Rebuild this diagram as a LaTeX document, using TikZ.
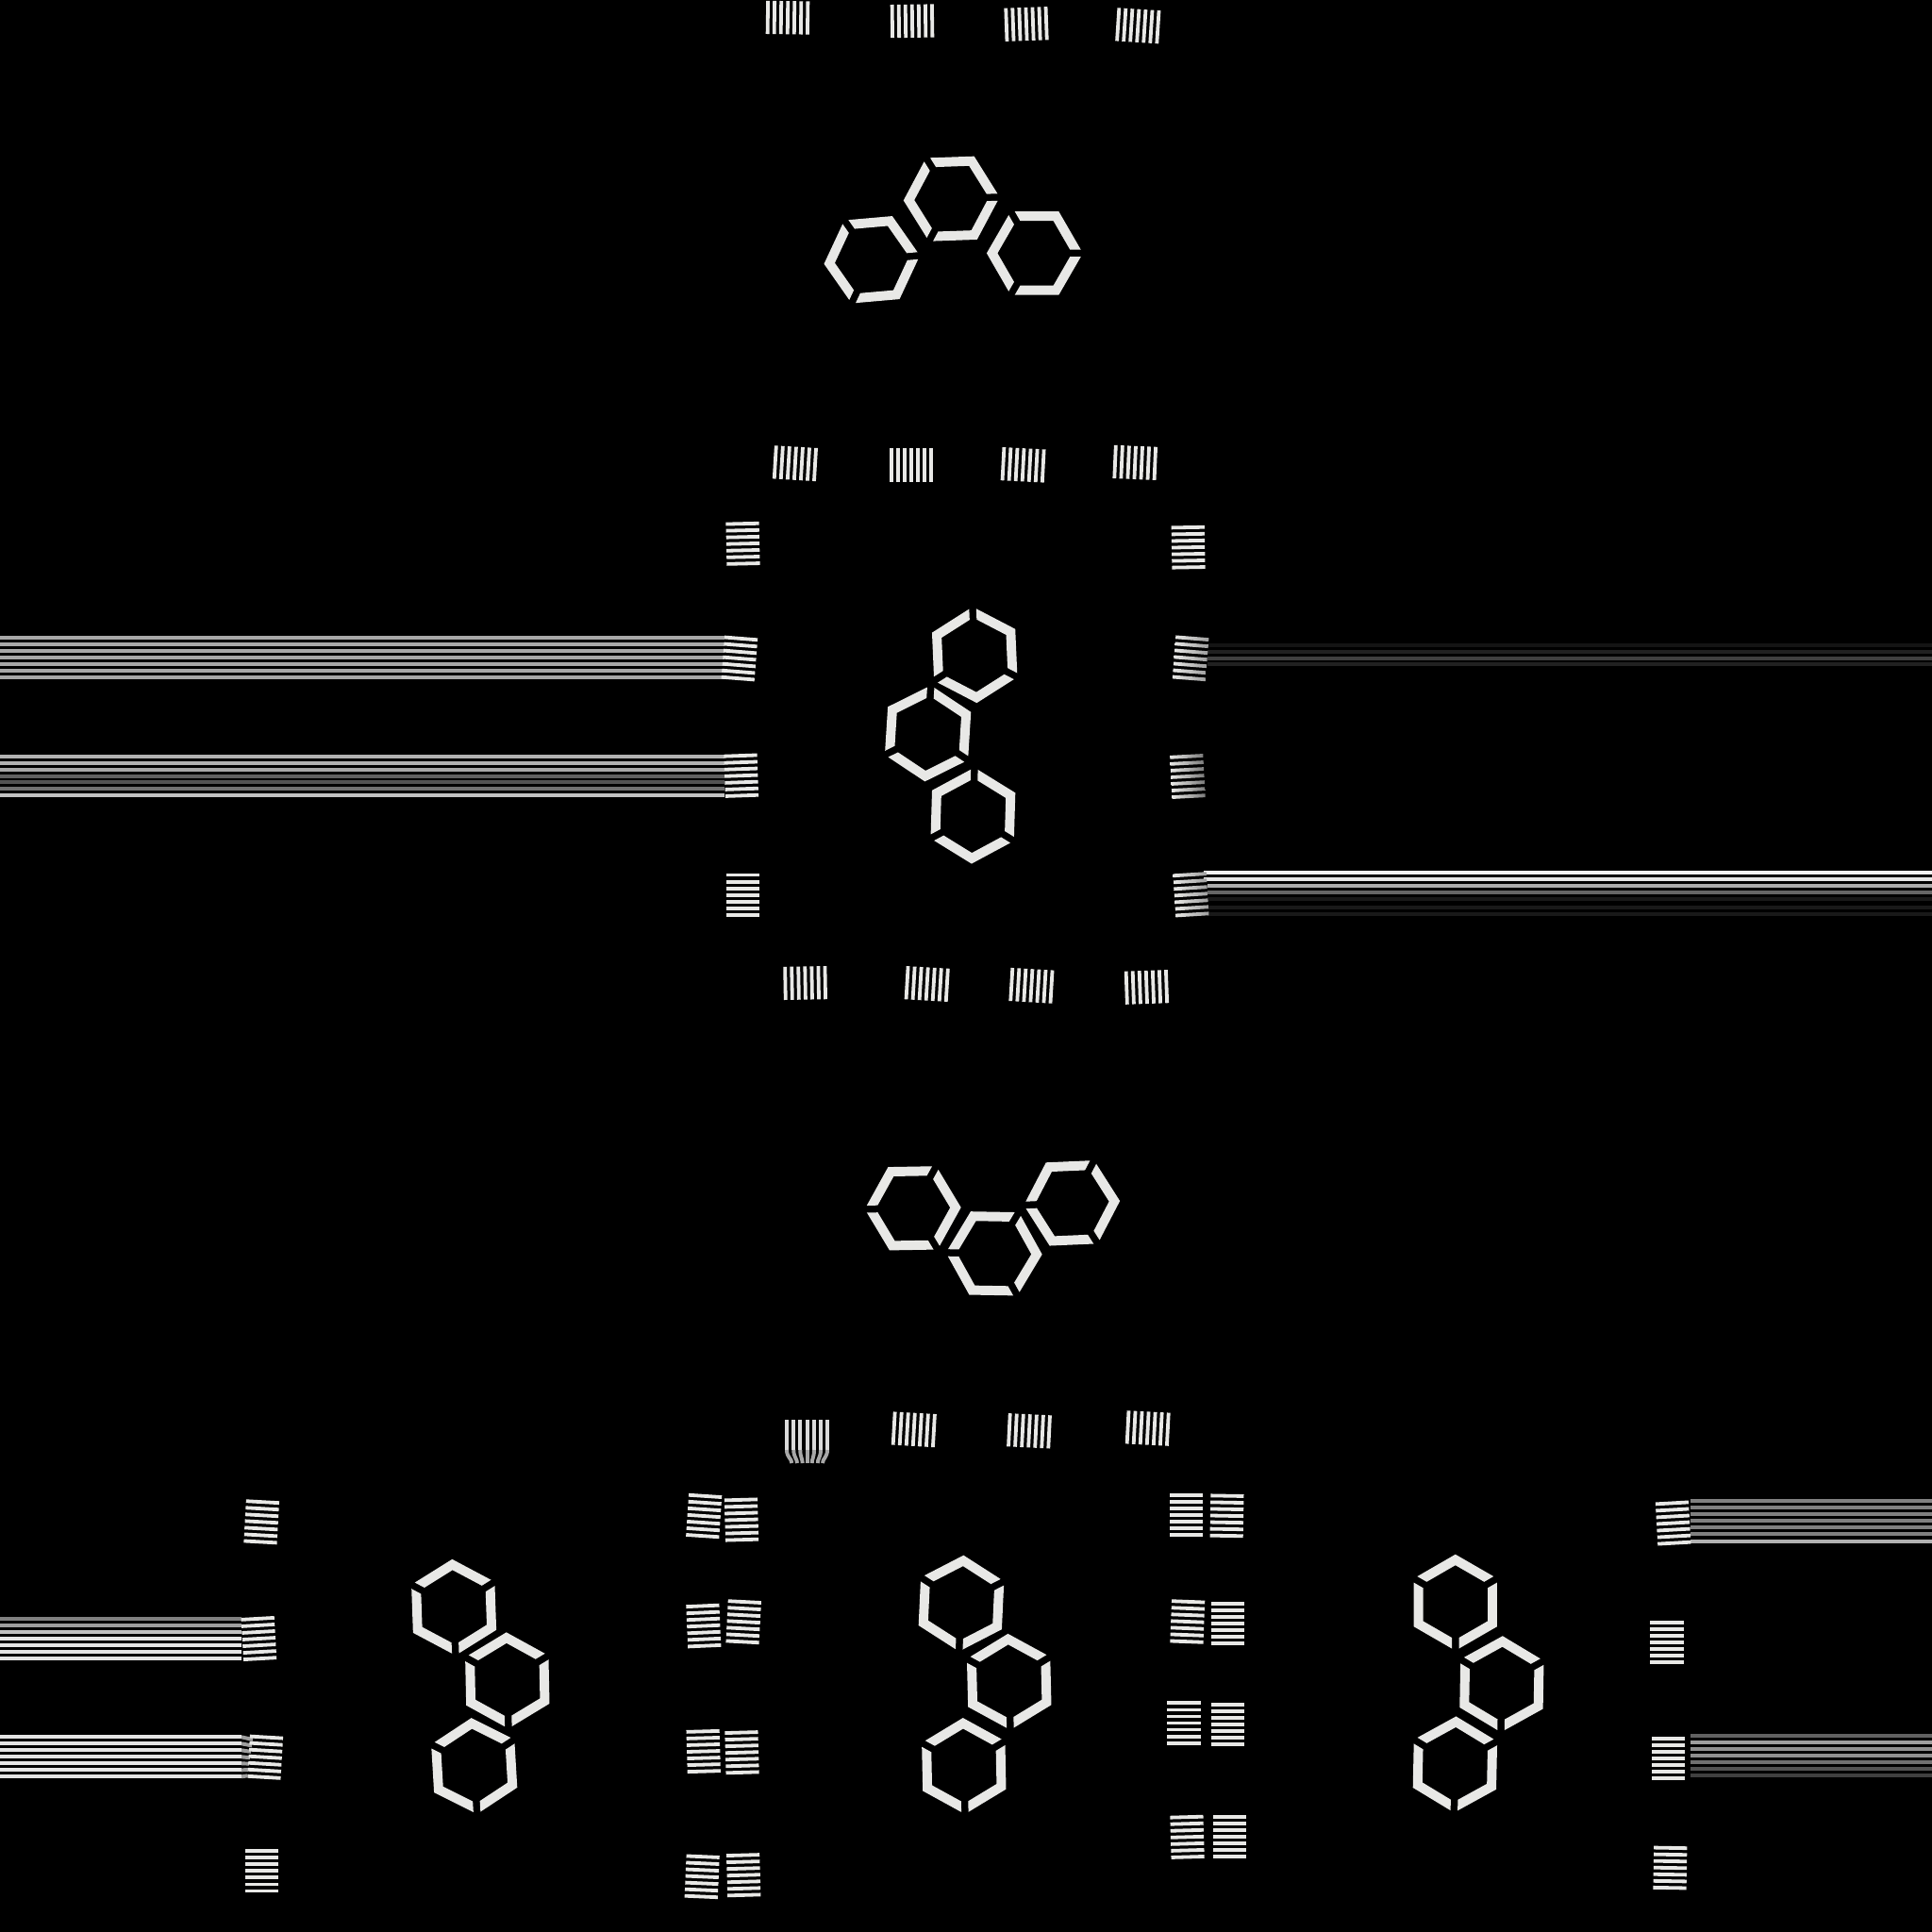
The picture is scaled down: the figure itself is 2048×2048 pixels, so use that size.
\documentclass[tikz,border=0pt]{standalone}
\usepackage{xcolor}
\definecolor{padink}{HTML}{E8E8E6}

\tikzset{
  padsolid/.style={fill=padink},
  padfade/.style={left color=padink,right color=white!62!black},
  padmid/.style={left color=padink,middle color=white!58!black,right color=white!48!black},
  wire/.style={line width=1.12pt},
}

% seven stripes, centre and angle
\newcommand{\pinset}[4][padsolid]{
  \begin{scope}[shift={(#2,#3)},rotate=#4]
    \foreach \i in {-3,...,3}
      \path[#1] (-17.6,\i*7.05-1.9) rectangle (17.6,\i*7.05+1.9);
  \end{scope}
}

% ring broken at three corners
\newcommand{\hexring}[3]{
  \begin{scope}[shift={(#1,#2)},rotate=#3]
    \foreach \a in {0,120,240}
      \fill[padink,rotate=\a] (27.67,40.42) -- (51,0) -- (27.67,-40.42) -- (21.92,-30.45) -- (39.5,0) -- (21.92,30.45) -- cycle;
  \end{scope}
}

\begin{document}
\begin{tikzpicture}[x=0.01cm,y=-0.01cm]
\useasboundingbox (0,0) rectangle (2048,2048);
\fill[black] (0,0) rectangle (2048,2048);

% wires
\foreach \wy/\wc in {676/66,683.3/66,690.3/66,697.3/66,704.3/66,711.3/66,718.3/66,
    801.7/70,808.7/70,815.7/66,822.7/38,829.3/32,836/44,843/76}
  \draw[wire,white!\wc!black] (0,\wy) -- (768,\wy);
\foreach \wy/\wc in {684.3/8,691.3/13,698.3/25,704.3/13,
    939/68,945.7/40,952.7/10,962/10,969/10}
  \draw[wire,white!\wc!black] (1280,\wy) -- (2048,\wy);
\foreach \wy/\wc in {925/95,931.7/90}
  \draw[wire,white!\wc!black] (1276,\wy) -- (2048,\wy);
\foreach \wy/\wc in {1715.7/50,1723/62,1730/75,1737/90,1744/90,1751/90,1758/90,
    1841.3/90,1848.3/90,1855.3/90,1862.3/90,1869.3/90,1876.3/90,1883.3/90}
  \draw[wire,white!\wc!black] (0,\wy) -- (256,\wy);
\foreach \wy/\wc in {1591/50,1598/50,1605/50,1612/50,1619/50,1626/50,1634.3/70,
    1840.3/38,1847.3/62,1854.3/56,1861.3/56,1868.3/44,1875.3/32,1882.3/25}
  \draw[wire,white!\wc!black] (1792,\wy) -- (2048,\wy);
\foreach \i in {0,...,6}
  \draw[wire,white!62!black] (256,1841.3+7*\i) -- (268-\i,1844+6.4*\i);

% top block
\hexring{924.3}{275.3}{65}
\hexring{1008.7}{210.7}{62}
\hexring{1096.9}{268.4}{60}
\pinset{835}{18.7}{89.2}
\pinset{967}{22.3}{90.8}
\pinset{1088}{25.5}{92}
\pinset{1206.3}{27.3}{86.3}

% middle block
\hexring{1033.2}{694.2}{32.5}
\hexring{983.6}{777.5}{26.4}
\hexring{1031.4}{864.6}{28.3}
\pinset{842.9}{491.2}{86.6}
\pinset{965.9}{493}{90}
\pinset{1084.6}{492.8}{87}
\pinset{1203.2}{490.4}{87.5}
\pinset{787.5}{576.3}{1.3}
\pinset{783.9}{698}{-4.5}
\pinset{785.7}{822.2}{2}
\pinset{787.1}{948.7}{0}
\pinset{1259.6}{580.2}{1}
\pinset[padfade]{1262.1}{697.8}{-4.5}
\pinset[padmid]{1258.9}{823}{3}
\pinset[padfade]{1262.5}{948.3}{3.5}
\pinset{853.6}{1042}{91}
\pinset{982.7}{1043}{86.6}
\pinset{1093.4}{1044.8}{86.6}
\pinset{1215.4}{1046.4}{92}

% lower block
\hexring{967.7}{1280.8}{1}
\hexring{1053.7}{1328.8}{-1}
\hexring{1136.2}{1275.3}{2.5}
\foreach \sx/\ex in {834/839.3,841.3/845,848.3/850.7,855.7/855.7,863/860.7,870/866.7,877/872}{
  \draw[wire,white!86!black] (\sx,1505) -- (\sx,1537);
  \draw[wire,white!66!black] (\sx,1537) .. controls (\sx,1545) and (\ex,1546) .. (\ex,1551);
}
\pinset{968.8}{1515.3}{86.7}
\pinset{1091}{1516.8}{87.2}
\pinset{1216.7}{1514}{87}

% bottom left
\hexring{481.1}{1703.8}{92}
\hexring{537.8}{1781.3}{91.2}
\hexring{502.7}{1872}{93.4}
\pinset{277.2}{1613.3}{-3.2}
\pinset{274.4}{1737}{3.2}
\pinset{281.2}{1862.7}{-3.4}
\pinset{277.2}{1983.3}{0}

% bottom centre columns
\pinset{746.2}{1607}{-3.8}
\pinset{786}{1611}{1.6}
\pinset{745.8}{1723.5}{2.5}
\pinset{788.2}{1719.2}{-3}
\pinset{745.7}{1856.5}{1.6}
\pinset{786.5}{1857.7}{1.6}
\pinset{744.2}{1989.3}{-2.5}
\pinset{788.2}{1987.7}{1.6}
\hexring{1019}{1699.6}{87.3}
\hexring{1069.7}{1782.8}{91.4}
\hexring{1021.8}{1872}{91.2}
\pinset{1257.3}{1606.2}{0}
\pinset{1300.5}{1606.8}{-1}
\pinset{1258.8}{1719}{-2.2}
\pinset{1301.7}{1721}{0}
\pinset{1255}{1826.5}{0}
\pinset{1301.7}{1828.2}{0}
\pinset{1258.5}{1947.3}{1.6}
\pinset{1303.7}{1947.2}{0}

% bottom right
\hexring{1542.8}{1698.7}{90}
\hexring{1591.9}{1785.2}{89}
\hexring{1542.4}{1870.4}{88.8}
\pinset{1773.6}{1614.5}{3.2}
\pinset{1767}{1740.8}{0}
\pinset{1768.3}{1864.2}{0}
\pinset{1770.4}{1980}{-1}

\end{tikzpicture}
\end{document}
